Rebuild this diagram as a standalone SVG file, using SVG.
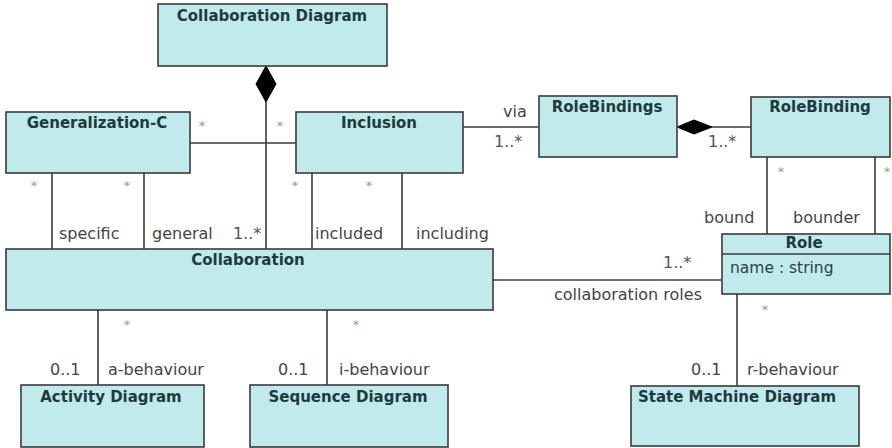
<svg xmlns="http://www.w3.org/2000/svg" width="892" height="448" viewBox="0 0 892 448">
  <style>
    .box { fill: #c0eaeb; stroke: #3a3a3a; stroke-width: 1.6; }
    .title { font-family: "DejaVu Sans", Verdana, sans-serif; font-size: 15px; font-weight: bold; fill: #1d3b3e; text-anchor: middle; }
    .attr { font-family: "DejaVu Sans", Verdana, sans-serif; font-size: 15.5px; fill: #2a4447; }
    .lbl { font-family: "DejaVu Sans", Verdana, sans-serif; font-size: 16px; fill: #444; }
    .mult { font-family: "DejaVu Sans", Verdana, sans-serif; font-size: 16px; fill: #555; }
    .star { font-family: "DejaVu Sans", Verdana, sans-serif; font-size: 13px; fill: #999; text-anchor: middle; }
    .line { stroke: #3a3a3a; stroke-width: 1.6; fill: none; }
    .diamond { fill: #000; stroke: #000; stroke-width: 1; }
  </style>

  <rect width="892" height="448" fill="#fff"/>

  <!-- associations -->
  <g id="connectors">
    <!-- composition: Collaboration Diagram owns Collaborations -->
    <polygon class="diamond" points="266,66 276,84 266,102 256,84"/>
    <line class="line" x1="266" y1="102" x2="266" y2="249"/>
    <!-- Generalization-C to Inclusion -->
    <line class="line" x1="190" y1="143" x2="296" y2="143"/>
    <!-- Generalization-C specific / general -->
    <line class="line" x1="52" y1="173" x2="52" y2="249"/>
    <line class="line" x1="144" y1="173" x2="144" y2="249"/>
    <!-- Inclusion included / including -->
    <line class="line" x1="312" y1="173" x2="312" y2="249"/>
    <line class="line" x1="402" y1="173" x2="402" y2="249"/>
    <!-- Inclusion via RoleBindings -->
    <line class="line" x1="463" y1="127" x2="539" y2="127"/>
    <!-- composition: RoleBindings owns RoleBinding -->
    <polygon class="diamond" points="677,127 694,120 712,127 694,134"/>
    <line class="line" x1="712" y1="127" x2="751" y2="127"/>
    <!-- RoleBinding bound / bounder -->
    <line class="line" x1="767" y1="157" x2="767" y2="234"/>
    <line class="line" x1="875" y1="157" x2="875" y2="234"/>
    <!-- collaboration roles -->
    <line class="line" x1="493" y1="280" x2="722" y2="280"/>
    <!-- behaviours -->
    <line class="line" x1="98" y1="310" x2="98" y2="385"/>
    <line class="line" x1="327" y1="310" x2="327" y2="385"/>
    <line class="line" x1="737" y1="294" x2="737" y2="386"/>

    <!-- multiplicities and role names -->
    <text class="star" x="202" y="130">*</text>
    <text class="star" x="280" y="130">*</text>
    <text class="star" x="34" y="190">*</text>
    <text class="star" x="127" y="190">*</text>
    <text class="star" x="295" y="190">*</text>
    <text class="star" x="369" y="190">*</text>
    <text class="lbl" x="59" y="239">specific</text>
    <text class="lbl" x="152" y="239">general</text>
    <text class="mult" x="233" y="239">1..*</text>
    <text class="lbl" x="315" y="239">included</text>
    <text class="lbl" x="416" y="239">including</text>

    <text class="lbl" x="503" y="117">via</text>
    <text class="mult" x="494" y="147">1..*</text>
    <text class="mult" x="708" y="147">1..*</text>
    <text class="star" x="781" y="176">*</text>
    <text class="star" x="887" y="176">*</text>
    <text class="lbl" x="704" y="223">bound</text>
    <text class="lbl" x="793" y="223">bounder</text>

    <text class="mult" x="663" y="268">1..*</text>
    <text class="lbl" x="554" y="300">collaboration roles</text>

    <text class="star" x="127" y="329">*</text>
    <text class="star" x="356" y="329">*</text>
    <text class="star" x="765" y="314">*</text>
    <text class="lbl" x="50" y="375">0..1</text>
    <text class="lbl" x="108" y="375">a-behaviour</text>
    <text class="lbl" x="278" y="375">0..1</text>
    <text class="lbl" x="339" y="375">i-behaviour</text>
    <text class="lbl" x="691" y="375">0..1</text>
    <text class="lbl" x="747" y="375">r-behaviour</text>
  </g>

  <g id="collaboration-diagram">
    <rect class="box" x="158" y="4" width="229" height="62"/>
    <text class="title" x="272" y="21">Collaboration Diagram</text>
  </g>

  <g id="generalization-c">
    <rect class="box" x="6" y="112" width="184" height="61"/>
    <text class="title" x="97" y="128">Generalization-C</text>
  </g>

  <g id="inclusion">
    <rect class="box" x="296" y="112" width="167" height="61"/>
    <text class="title" x="379" y="128">Inclusion</text>
  </g>

  <g id="rolebindings">
    <rect class="box" x="539" y="96" width="138" height="61"/>
    <text class="title" x="607" y="112">RoleBindings</text>
  </g>

  <g id="rolebinding">
    <rect class="box" x="751" y="97" width="139" height="60"/>
    <text class="title" x="820" y="112">RoleBinding</text>
  </g>

  <g id="collaboration">
    <rect class="box" x="6" y="249" width="487" height="61"/>
    <text class="title" x="248" y="265">Collaboration</text>
  </g>

  <g id="role">
    <rect class="box" x="722" y="234" width="168" height="60"/>
    <line class="line" x1="722" y1="254" x2="890" y2="254"/>
    <text class="title" x="804" y="248">Role</text>
    <text class="attr" x="730" y="273">name : string</text>
  </g>

  <g id="activity-diagram">
    <rect class="box" x="21" y="385" width="183" height="62"/>
    <text class="title" x="111" y="402">Activity Diagram</text>
  </g>

  <g id="sequence-diagram">
    <rect class="box" x="250" y="385" width="198" height="62"/>
    <text class="title" x="348" y="402">Sequence Diagram</text>
  </g>

  <g id="state-machine-diagram">
    <rect class="box" x="631" y="386" width="228" height="60"/>
    <text class="title" x="737" y="402">State Machine Diagram</text>
  </g>
</svg>
